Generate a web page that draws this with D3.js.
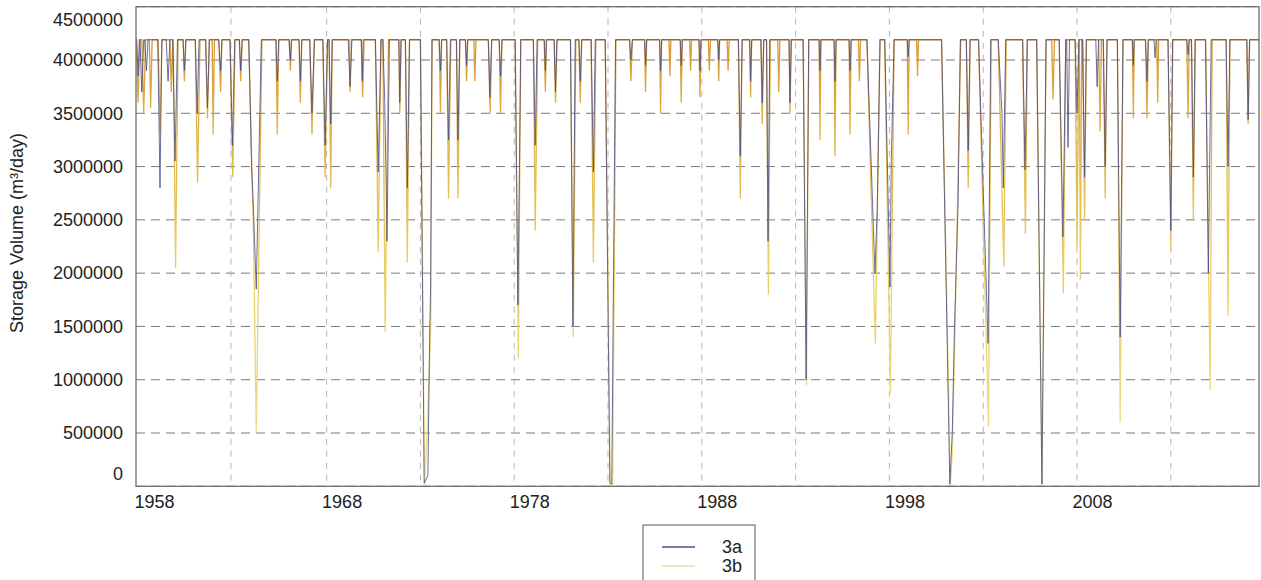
<!DOCTYPE html>
<html>
<head>
<meta charset="utf-8">
<script src="https://cdn.jsdelivr.net/npm/d3@7"></script>
<style>
  body { margin: 0; background: #ffffff; }
  svg { display: block; font-family: "Liberation Sans", Arial, Helvetica, sans-serif; }
</style>
</head>
<body>
<svg id="chart" width="1261" height="580"></svg>
<script>
// ---- data ---------------------------------------------------------------
// Storage at full supply level (m³)
const FULL = 4190000;

const yTicks = [0, 500000, 1000000, 1500000, 2000000, 2500000, 3000000, 3500000, 4000000, 4500000];
const xTickYears = [1958, 1968, 1978, 1988, 1998, 2008];
const xGridYears = [1962.1, 1967.2, 1972.2, 1977.2, 1982.2, 1987.2, 1992.2, 1997.2, 2002.2, 2007.2, 2012.2];
const seriesNames = ["3a", "3b"];

// Drawdown events: [leaves full (year), year, volume, year, volume, ..., back to full (year)]
const dips3a = [
  [1957.08, 1957.15, 3850000, 1957.22],
  [1957.25, 1957.35, 3700000, 1957.45],
  [1957.50, 1957.60, 3900000, 1957.68],
  [1958.20, 1958.32, 2800000, 1958.42],
  [1958.65, 1958.75, 3800000, 1958.85],
  [1959.00, 1959.12, 3050000, 1959.25],
  [1959.55, 1959.62, 3900000, 1959.70],
  [1960.20, 1960.30, 3500000, 1960.40],
  [1960.75, 1960.85, 3550000, 1960.95],
  [1961.45, 1961.55, 3900000, 1961.62],
  [1962.05, 1962.18, 3200000, 1962.30],
  [1962.55, 1962.62, 3900000, 1962.70],
  [1963.05, 1963.20, 3000000, 1963.30, 2600000, 1963.45, 1850000, 1963.72],
  [1964.50, 1964.57, 3800000, 1964.65],
  [1965.20, 1965.27, 4000000, 1965.33],
  [1965.73, 1965.80, 3800000, 1965.88],
  [1966.30, 1966.42, 3500000, 1966.55],
  [1967.00, 1967.12, 3200000, 1967.25],
  [1967.33, 1967.42, 3400000, 1967.50],
  [1968.35, 1968.45, 3750000, 1968.55],
  [1969.05, 1969.10, 3800000, 1969.15],
  [1969.80, 1969.95, 2950000, 1970.10],
  [1970.20, 1970.30, 3600000, 1970.36, 3000000, 1970.42, 2300000, 1970.55],
  [1971.05, 1971.10, 3600000, 1971.17],
  [1971.40, 1971.50, 2800000, 1971.62],
  [1972.20, 1972.40, 30000, 1972.60, 100000, 1972.70, 1500000, 1972.74, 1800000, 1972.82],
  [1973.20, 1973.27, 3900000, 1973.33],
  [1973.60, 1973.70, 3250000, 1973.80],
  [1974.12, 1974.20, 3250000, 1974.30],
  [1974.60, 1974.66, 3950000, 1974.72],
  [1975.82, 1975.90, 3650000, 1976.00],
  [1976.40, 1976.47, 3850000, 1976.55],
  [1977.25, 1977.40, 1700000, 1977.55],
  [1978.22, 1978.32, 3200000, 1978.42],
  [1978.80, 1978.86, 3900000, 1978.92],
  [1979.33, 1979.40, 3700000, 1979.48],
  [1980.20, 1980.33, 1500000, 1980.45],
  [1980.65, 1980.72, 3800000, 1980.80],
  [1981.30, 1981.42, 2950000, 1981.52],
  [1982.05, 1982.30, 30000, 1982.40, 20000, 1982.60],
  [1983.35, 1983.42, 4000000, 1983.50],
  [1984.15, 1984.20, 3950000, 1984.26],
  [1984.95, 1985.00, 3900000, 1985.06],
  [1986.05, 1986.10, 3950000, 1986.16],
  [1987.05, 1987.10, 3900000, 1987.16],
  [1988.05, 1988.10, 4000000, 1988.15],
  [1989.15, 1989.25, 3100000, 1989.35],
  [1989.75, 1989.80, 3800000, 1989.86],
  [1990.35, 1990.42, 3600000, 1990.50],
  [1990.65, 1990.73, 2300000, 1990.82],
  [1991.85, 1991.90, 3600000, 1991.97],
  [1992.60, 1992.76, 1000000, 1992.90],
  [1993.45, 1993.50, 3900000, 1993.55],
  [1994.25, 1994.30, 3800000, 1994.36],
  [1995.05, 1995.10, 3900000, 1995.16],
  [1996.00, 1996.43, 2000000, 1996.55, 2600000, 1996.70],
  [1996.95, 1997.23, 1870000, 1997.30, 3060000, 1997.45],
  [1998.15, 1998.20, 4030000, 1998.25],
  [1999.98, 2000.42, 20000, 2000.55, 500000, 2000.66, 1440000, 2000.86, 2650000, 2000.98],
  [2001.30, 2001.40, 3150000, 2001.50],
  [2001.95, 2002.46, 1340000, 2002.60],
  [2003.00, 2003.10, 3840000, 2003.20, 3500000, 2003.27, 2800000, 2003.40],
  [2004.30, 2004.43, 2970000, 2004.55],
  [2005.05, 2005.33, 20000, 2005.55],
  [2006.25, 2006.45, 2340000, 2006.60],
  [2006.65, 2006.72, 3180000, 2006.80],
  [2007.10, 2007.20, 3500000, 2007.30],
  [2007.50, 2007.60, 2900000, 2007.70],
  [2008.20, 2008.27, 3750000, 2008.35],
  [2008.60, 2008.70, 3000000, 2008.80],
  [2009.35, 2009.50, 1400000, 2009.65],
  [2010.15, 2010.20, 3950000, 2010.25],
  [2010.85, 2010.93, 3800000, 2011.00],
  [2011.30, 2011.36, 4020000, 2011.42],
  [2012.05, 2012.20, 2400000, 2012.30],
  [2013.05, 2013.12, 4050000, 2013.18],
  [2013.30, 2013.40, 2900000, 2013.50],
  [2014.05, 2014.20, 2000000, 2014.35],
  [2015.15, 2015.25, 3000000, 2015.35],
  [2016.25, 2016.32, 3440000, 2016.40]
];

const dips3b = [
  [1957.05, 1957.15, 3600000, 1957.25],
  [1957.35, 1957.45, 3500000, 1957.55],
  [1957.75, 1957.82, 3550000, 1957.90],
  [1958.22, 1958.32, 3300000, 1958.42],
  [1958.85, 1958.92, 3700000, 1959.00],
  [1959.02, 1959.15, 2050000, 1959.28],
  [1959.55, 1959.62, 3800000, 1959.70],
  [1960.20, 1960.32, 2850000, 1960.45],
  [1960.75, 1960.85, 3450000, 1960.95],
  [1961.10, 1961.15, 3300000, 1961.22],
  [1961.45, 1961.55, 3700000, 1961.62],
  [1962.05, 1962.20, 2900000, 1962.32],
  [1962.55, 1962.62, 3800000, 1962.70],
  [1963.05, 1963.30, 2400000, 1963.45, 500000, 1963.75],
  [1964.50, 1964.57, 3300000, 1964.65],
  [1965.20, 1965.27, 3900000, 1965.33],
  [1965.73, 1965.80, 3600000, 1965.88],
  [1966.30, 1966.42, 3300000, 1966.55],
  [1967.00, 1967.12, 2900000, 1967.25],
  [1967.33, 1967.42, 2800000, 1967.50],
  [1968.40, 1968.45, 3700000, 1968.52],
  [1969.05, 1969.12, 3650000, 1969.20],
  [1969.80, 1969.95, 2200000, 1970.10],
  [1970.20, 1970.32, 1450000, 1970.50],
  [1971.05, 1971.10, 3500000, 1971.17],
  [1971.40, 1971.50, 2100000, 1971.62],
  [1972.20, 1972.42, 0, 1972.60, 700000, 1972.75, 1500000, 1972.82],
  [1973.20, 1973.27, 3500000, 1973.33],
  [1973.60, 1973.70, 2700000, 1973.82],
  [1974.12, 1974.20, 2700000, 1974.30],
  [1974.60, 1974.66, 3800000, 1974.72],
  [1975.05, 1975.10, 3800000, 1975.16],
  [1975.82, 1975.92, 3500000, 1976.00],
  [1976.40, 1976.47, 3500000, 1976.55],
  [1977.25, 1977.42, 1200000, 1977.55],
  [1978.22, 1978.32, 2400000, 1978.45],
  [1978.80, 1978.86, 3700000, 1978.92],
  [1979.33, 1979.40, 3600000, 1979.48],
  [1980.20, 1980.35, 1400000, 1980.48],
  [1980.65, 1980.72, 3600000, 1980.80],
  [1981.30, 1981.42, 2100000, 1981.55],
  [1982.05, 1982.32, 0, 1982.45, 0, 1982.62],
  [1983.35, 1983.42, 3800000, 1983.50],
  [1984.15, 1984.20, 3700000, 1984.26],
  [1984.95, 1985.00, 3500000, 1985.06],
  [1985.45, 1985.50, 3850000, 1985.55],
  [1986.05, 1986.10, 3600000, 1986.16],
  [1986.55, 1986.60, 3900000, 1986.65],
  [1987.05, 1987.10, 3650000, 1987.16],
  [1987.55, 1987.60, 3900000, 1987.66],
  [1988.05, 1988.10, 3800000, 1988.15],
  [1988.55, 1988.60, 3900000, 1988.66],
  [1989.15, 1989.25, 2700000, 1989.35],
  [1989.75, 1989.80, 3650000, 1989.86],
  [1990.35, 1990.42, 3400000, 1990.50],
  [1990.65, 1990.75, 1800000, 1990.85],
  [1991.25, 1991.30, 3700000, 1991.36],
  [1991.85, 1991.90, 3500000, 1991.97],
  [1992.60, 1992.78, 950000, 1992.90],
  [1993.45, 1993.50, 3250000, 1993.55],
  [1994.25, 1994.30, 3100000, 1994.36],
  [1995.05, 1995.10, 3300000, 1995.16],
  [1995.55, 1995.60, 3800000, 1995.66],
  [1996.00, 1996.45, 1340000, 1996.70],
  [1996.95, 1997.25, 870000, 1997.45],
  [1998.15, 1998.20, 3300000, 1998.25],
  [1998.65, 1998.70, 3850000, 1998.75],
  [1999.98, 2000.45, 0, 2000.55, 300000, 2000.70, 1500000, 2001.00],
  [2001.30, 2001.40, 2800000, 2001.50],
  [2001.95, 2002.48, 560000, 2002.62],
  [2003.00, 2003.30, 2060000, 2003.42],
  [2004.30, 2004.45, 2370000, 2004.55],
  [2005.05, 2005.33, 0, 2005.55],
  [2005.85, 2005.92, 3630000, 2006.00],
  [2006.25, 2006.47, 1810000, 2006.60],
  [2007.10, 2007.20, 2250000, 2007.30],
  [2007.32, 2007.38, 1940000, 2007.45],
  [2007.50, 2007.60, 2500000, 2007.70],
  [2008.35, 2008.43, 3330000, 2008.50],
  [2008.60, 2008.70, 2700000, 2008.80],
  [2009.35, 2009.50, 600000, 2009.65],
  [2010.15, 2010.20, 3450000, 2010.25],
  [2010.85, 2010.93, 3450000, 2011.00],
  [2011.45, 2011.50, 3600000, 2011.55],
  [2012.05, 2012.20, 2200000, 2012.30],
  [2013.05, 2013.12, 3450000, 2013.18],
  [2013.30, 2013.40, 2500000, 2013.50],
  [2014.05, 2014.30, 900000, 2014.40],
  [2015.15, 2015.25, 1600000, 2015.35],
  [2016.25, 2016.32, 3400000, 2016.40]
];

// ---- layout -------------------------------------------------------------
const svg = d3.select("#chart");
const plot = { left: 136, right: 1259, top: 6.7, bottom: 486.3 };
const xDomain = [1957.04, 2016.9];

const x = d3.scaleLinear().domain(xDomain).range([plot.left, plot.right]);
const y = d3.scaleLinear().domain([0, 4500000]).range([plot.bottom, plot.top]);

// Turn drawdown events into a continuous storage trace
function trace(dips) {
  const pts = [[xDomain[0], FULL]];
  dips.slice().sort((a, b) => a[0] - b[0]).forEach(d => {
    pts.push([d[0], FULL]);
    for (let i = 1; i < d.length - 1; i += 2) pts.push([d[i], d[i + 1]]);
    pts.push([d[d.length - 1], FULL]);
  });
  pts.push([xDomain[1], FULL]);
  return pts;
}

const defs = svg.append("defs");
defs.append("clipPath").attr("id", "plotClip")
  .append("rect")
  .attr("x", plot.left).attr("y", plot.top)
  .attr("width", plot.right - plot.left).attr("height", plot.bottom - plot.top);

const grad = defs.append("linearGradient")
  .attr("id", "gold").attr("gradientUnits", "userSpaceOnUse")
  .attr("x1", 0).attr("x2", 0)
  .attr("y1", y(FULL)).attr("y2", y(0));
[[0, "#d4922a"], [0.2, "#dfae3e"], [0.5, "#e8cb5c"], [1, "#efdf86"]].forEach(s =>
  grad.append("stop").attr("offset", s[0]).attr("stop-color", s[1]));

// grid
const grid = svg.append("g");
grid.selectAll("line.h").data(yTicks).join("line")
  .attr("x1", plot.left).attr("x2", plot.right)
  .attr("y1", d => y(d)).attr("y2", d => y(d))
  .attr("stroke", "#7a7a7a").attr("stroke-width", 1)
  .attr("stroke-dasharray", "9,6");
grid.selectAll("line.v").data(xGridYears).join("line")
  .attr("x1", d => x(d)).attr("x2", d => x(d))
  .attr("y1", plot.top).attr("y2", plot.bottom)
  .attr("stroke", "#b4b4b4").attr("stroke-width", 1)
  .attr("stroke-dasharray", "6,6");

// series (3b underneath, 3a over it)
const line = d3.line().x(d => x(d[0])).y(d => y(d[1]));
const lines = svg.append("g").attr("clip-path", "url(#plotClip)");
lines.append("path").datum(trace(dips3b))
  .attr("d", line).attr("fill", "none")
  .attr("stroke", "url(#gold)").attr("stroke-width", 1.3)
  .attr("stroke-opacity", 0.95);
lines.append("path").datum(trace(dips3a))
  .attr("d", line).attr("fill", "none")
  .attr("stroke", "#464b84").attr("stroke-width", 1)
  .attr("stroke-opacity", 0.8);

// frame
svg.append("rect")
  .attr("x", plot.left).attr("y", plot.top)
  .attr("width", plot.right - plot.left).attr("height", plot.bottom - plot.top)
  .attr("fill", "none").attr("stroke", "#6e6e6e").attr("stroke-width", 1.3);

// axes
const yAxis = svg.append("g")
  .attr("transform", `translate(${plot.left},0)`)
  .call(d3.axisLeft(y).tickValues(yTicks).tickSize(0).tickPadding(13).tickFormat(d3.format("d")));
yAxis.select(".domain").remove();
yAxis.selectAll("text")
  .attr("font-size", 18).attr("fill", "#222")
  .attr("font-family", "Liberation Sans, Arial, sans-serif")
  .attr("dy", d => d === 0 ? "-0.4em" : d === 4500000 ? "1.05em" : "0.32em");

const xAxis = svg.append("g")
  .attr("transform", `translate(0,${plot.bottom})`)
  .call(d3.axisBottom(x).tickValues(xTickYears).tickSize(0).tickPadding(9).tickFormat(d => String(d)));
xAxis.select(".domain").remove();
xAxis.selectAll("text")
  .attr("font-size", 18).attr("fill", "#222")
  .attr("font-family", "Liberation Sans, Arial, sans-serif");

svg.append("text")
  .attr("transform", "translate(23,233) rotate(-90)")
  .attr("text-anchor", "middle")
  .attr("font-size", 18).attr("fill", "#222")
  .text("Storage Volume (m³/day)");

// legend
const legend = svg.append("g").attr("transform", "translate(643,525)");
legend.append("rect")
  .attr("width", 112).attr("height", 70)
  .attr("fill", "#fff").attr("stroke", "#555").attr("stroke-width", 1);
const legendColors = ["#4a4f86", "#e6dca8"];
seriesNames.forEach((name, i) => {
  const ly = 22 + i * 19;
  legend.append("line")
    .attr("x1", 19).attr("x2", 52).attr("y1", ly).attr("y2", ly)
    .attr("stroke", legendColors[i]).attr("stroke-width", 1.3);
  legend.append("text")
    .attr("x", 99).attr("y", ly).attr("dy", "0.35em")
    .attr("text-anchor", "end").attr("font-size", 18).attr("fill", "#222")
    .text(name);
});
</script>
</body>
</html>
